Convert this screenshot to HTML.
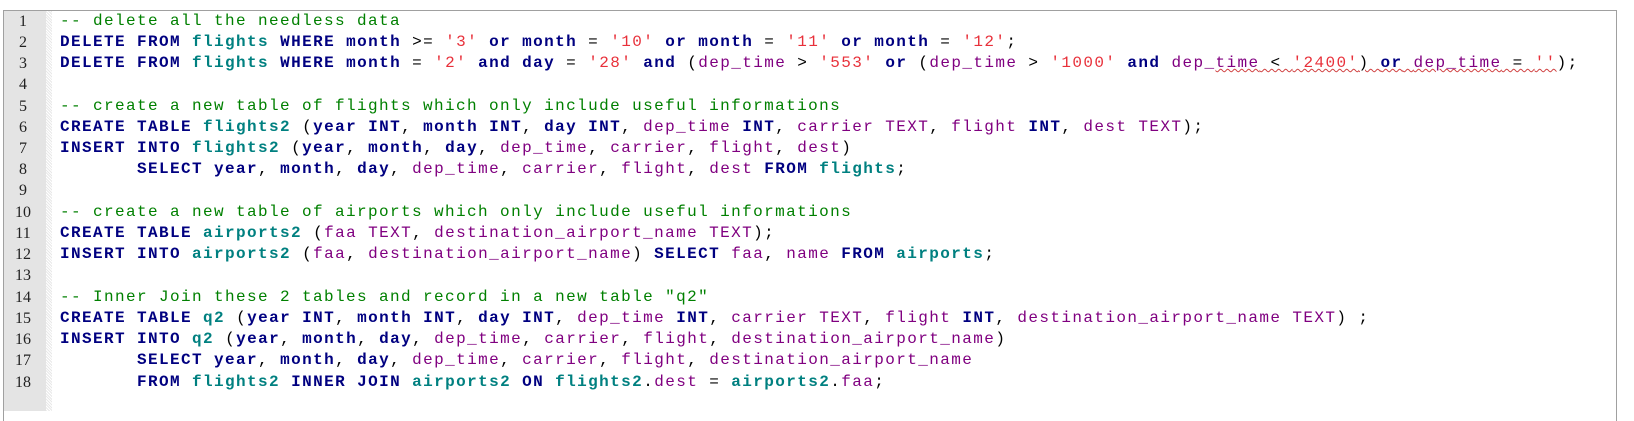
<!DOCTYPE html>
<html><head><meta charset="utf-8">
<style>
body{margin:0;width:1634px;height:408px;background:#fff;overflow:hidden;position:relative}
#box{position:absolute;left:3px;top:10px;width:1612px;height:410px;border:1px solid #a0a0a0;border-bottom:none;background:#fff}
#gut{position:absolute;left:4px;top:11px;width:42px;height:400px;background:#e4e4e4}
#hatch{position:absolute;left:46px;top:11px;width:6px;height:400px;background:repeating-linear-gradient(45deg,#e8e8e8 0 1px,#fff 1px 2px)}
.n{position:absolute;left:4px;width:38px;text-align:center;font-family:"Liberation Serif",serif;font-size:16px;color:#222;line-height:21px;margin-top:1px}
.l{position:absolute;left:60px;font-family:"Liberation Mono",monospace;font-size:16px;letter-spacing:1.4px;line-height:21px;white-space:pre;color:#000;margin-top:1px}
.k{color:#000080;font-weight:bold}
.t{color:#008080;font-weight:bold}
.s{color:#e8303a}
.p{color:#800080}
.c{color:#008000}
.w{text-decoration:underline wavy #d04040;text-decoration-thickness:1px}
</style></head><body>
<div id="box"></div><div id="gut"></div><div id="hatch"></div>
<div class="n" style="top:9.5px">1</div>
<div class="n" style="top:30.7px">2</div>
<div class="n" style="top:52px">3</div>
<div class="n" style="top:73.2px">4</div>
<div class="n" style="top:94.5px">5</div>
<div class="n" style="top:115.7px">6</div>
<div class="n" style="top:136.9px">7</div>
<div class="n" style="top:158.2px">8</div>
<div class="n" style="top:179.4px">9</div>
<div class="n" style="top:200.7px">10</div>
<div class="n" style="top:221.9px">11</div>
<div class="n" style="top:243.1px">12</div>
<div class="n" style="top:264.4px">13</div>
<div class="n" style="top:285.6px">14</div>
<div class="n" style="top:306.9px">15</div>
<div class="n" style="top:328.1px">16</div>
<div class="n" style="top:349.3px">17</div>
<div class="n" style="top:370.6px">18</div>

<div class="l c" style="top:9.5px">-- delete all the needless data</div>
<div class="l" style="top:30.7px"><span class="k">DELETE FROM</span> <span class="t">flights</span> <span class="k">WHERE month</span> &gt;= <span class="s">'3'</span> <span class="k">or month</span> = <span class="s">'10'</span> <span class="k">or month</span> = <span class="s">'11'</span> <span class="k">or month</span> = <span class="s">'12'</span>;</div>
<div class="l" style="top:52px"><span class="k">DELETE FROM</span> <span class="t">flights</span> <span class="k">WHERE month</span> = <span class="s">'2'</span> <span class="k">and day</span> = <span class="s">'28'</span> <span class="k">and</span> (<span class="p">dep_time</span> &gt; <span class="s">'553'</span> <span class="k">or</span> (<span class="p">dep_time</span> &gt; <span class="s">'1000'</span> <span class="k">and</span> <span class="p">dep_</span><span class="w"><span class="p">time</span> &lt; <span class="s">'2400'</span>) <span class="k">or</span> <span class="p">dep_time</span> = <span class="s">''</span></span>);</div>
<div class="l c" style="top:94.5px">-- create a new table of flights which only include useful informations</div>
<div class="l" style="top:115.7px"><span class="k">CREATE TABLE</span> <span class="t">flights2</span> (<span class="k">year INT</span>, <span class="k">month INT</span>, <span class="k">day INT</span>, <span class="p">dep_time</span> <span class="k">INT</span>, <span class="p">carrier TEXT</span>, <span class="p">flight</span> <span class="k">INT</span>, <span class="p">dest TEXT</span>);</div>
<div class="l" style="top:136.9px"><span class="k">INSERT INTO</span> <span class="t">flights2</span> (<span class="k">year</span>, <span class="k">month</span>, <span class="k">day</span>, <span class="p">dep_time</span>, <span class="p">carrier</span>, <span class="p">flight</span>, <span class="p">dest</span>)</div>
<div class="l" style="top:158.2px">       <span class="k">SELECT year</span>, <span class="k">month</span>, <span class="k">day</span>, <span class="p">dep_time</span>, <span class="p">carrier</span>, <span class="p">flight</span>, <span class="p">dest</span> <span class="k">FROM</span> <span class="t">flights</span>;</div>
<div class="l c" style="top:200.7px">-- create a new table of airports which only include useful informations</div>
<div class="l" style="top:221.9px"><span class="k">CREATE TABLE</span> <span class="t">airports2</span> (<span class="p">faa TEXT</span>, <span class="p">destination_airport_name TEXT</span>);</div>
<div class="l" style="top:243.1px"><span class="k">INSERT INTO</span> <span class="t">airports2</span> (<span class="p">faa</span>, <span class="p">destination_airport_name</span>) <span class="k">SELECT</span> <span class="p">faa</span>, <span class="p">name</span> <span class="k">FROM</span> <span class="t">airports</span>;</div>
<div class="l c" style="top:285.6px">-- Inner Join these 2 tables and record in a new table "q2"</div>
<div class="l" style="top:306.9px"><span class="k">CREATE TABLE</span> <span class="t">q2</span> (<span class="k">year INT</span>, <span class="k">month INT</span>, <span class="k">day INT</span>, <span class="p">dep_time</span> <span class="k">INT</span>, <span class="p">carrier TEXT</span>, <span class="p">flight</span> <span class="k">INT</span>, <span class="p">destination_airport_name TEXT</span>) ;</div>
<div class="l" style="top:328.1px"><span class="k">INSERT INTO</span> <span class="t">q2</span> (<span class="k">year</span>, <span class="k">month</span>, <span class="k">day</span>, <span class="p">dep_time</span>, <span class="p">carrier</span>, <span class="p">flight</span>, <span class="p">destination_airport_name</span>)</div>
<div class="l" style="top:349.3px">       <span class="k">SELECT year</span>, <span class="k">month</span>, <span class="k">day</span>, <span class="p">dep_time</span>, <span class="p">carrier</span>, <span class="p">flight</span>, <span class="p">destination_airport_name</span></div>
<div class="l" style="top:370.6px">       <span class="k">FROM</span> <span class="t">flights2</span> <span class="k">INNER JOIN</span> <span class="t">airports2</span> <span class="k">ON</span> <span class="t">flights2</span>.<span class="p">dest</span> = <span class="t">airports2</span>.<span class="p">faa</span>;</div>
</body></html>
